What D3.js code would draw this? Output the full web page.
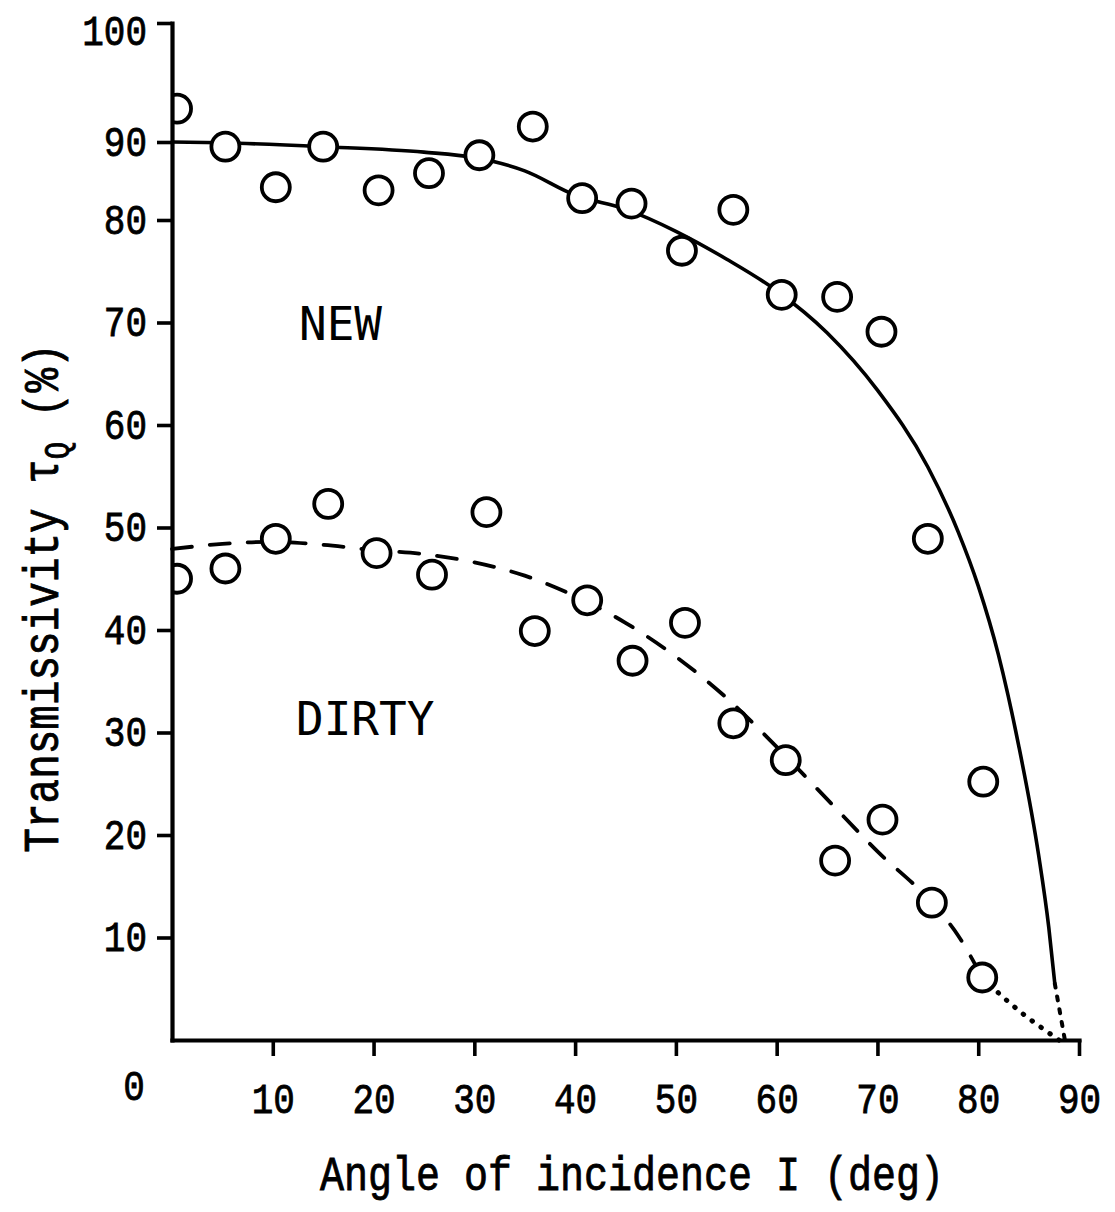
<!DOCTYPE html>
<html>
<head>
<meta charset="utf-8">
<script src="https://cdn.jsdelivr.net/npm/d3@7"></script>
<style>
  html, body { margin: 0; padding: 0; background: #fff; }
  svg { display: block; }
  .tw { font-family: "Liberation Mono", "DejaVu Sans Mono", monospace; fill: #000; stroke: #000; stroke-width: 0.7px; }
  .lbl { font-family: "DejaVu Sans Mono", monospace; fill: #000; }
</style>
</head>
<body>
<div id="chart"></div>
<script>
// measured points: angle of incidence (deg) and transmissivity (%)
var newAngle   = [0.5, 5.3, 10.3, 15, 20.5, 25.5, 30.5, 35.8, 40.7, 45.6, 50.6, 55.7, 60.5, 66, 70.4, 75, 80.5];
var newTrans   = [92.8, 89.4, 84.2, 89.4, 83.8, 86, 88.3, 91.3, 82.8, 82.1, 77, 81.3, 72.7, 72.5, 69.1, 48.9, 25.2];
var dirtyAngle = [0.5, 5.3, 10.3, 15.5, 20.3, 25.8, 31.2, 36, 41.2, 45.7, 50.9, 55.7, 60.9, 65.8, 70.5, 75.4, 80.4];
var dirtyTrans = [45, 46, 48.9, 52.3, 47.5, 45.4, 51.5, 39.9, 42.9, 37, 40.7, 30.9, 27.3, 17.5, 21.5, 13.4, 6.1];

// hand drawn fit curves
var newFitAngle = [0, 5, 15, 25, 30, 35, 40, 45, 50, 55, 60, 65, 70, 75, 78, 80, 82, 84, 86, 87, 87.6];
var newFitTrans = [90, 89.9, 89.4, 88.7, 88.0, 86.3, 83.2, 81.4, 78.9, 76.2, 73.1, 69, 63.4, 55.9, 49.6, 44.3, 37.6, 28.8, 18.0, 11.0, 5.5];
var newTailAngle = [87.6, 88.6];
var newTailTrans = [5.5, 0];

var dirtyFitAngle = [0, 5, 10, 15, 20, 25, 30, 35, 40, 45, 50, 55, 60, 65, 70, 75, 78, 80.4];
var dirtyFitTrans = [47.9, 48.4, 48.6, 48.3, 47.8, 47.4, 46.6, 45.3, 43.3, 40.7, 37.4, 33.4, 28.6, 23.5, 18.4, 13.8, 10.2, 6.1];
var dirtyTailAngle = [80.4, 82, 84.5, 87, 88];
var dirtyTailTrans = [6.1, 4.6, 2.5, 0.7, 0];

var xTicks = [10, 20, 30, 40, 50, 60, 70, 80, 90];
var yTicks = [10, 20, 30, 40, 50, 60, 70, 80, 90, 100];

var width = 1115, height = 1212;

var svg = d3.select("#chart").append("svg")
    .attr("width", width)
    .attr("height", height);

// the drawn axis is not quite even above 80
var x = d3.scaleLinear().domain([0, 90]).range([172, 1079]);
var y = d3.scaleLinear().domain([0, 80, 90, 100]).range([1040, 220, 142, 23]);

svg.append("defs").append("clipPath").attr("id", "plot")
  .append("rect").attr("x", 172).attr("y", 0).attr("width", width).attr("height", height);

function pts(a, b) { return a.map(function (d, i) { return [d, b[i]]; }); }

var line = d3.line()
    .x(function (d) { return x(d[0]); })
    .y(function (d) { return y(d[1]); })
    .curve(d3.curveMonotoneX);

var g = svg.append("g");

g.append("path")
    .attr("d", line(pts(newFitAngle, newFitTrans)))
    .attr("fill", "none").attr("stroke", "#000").attr("stroke-width", 3.6);
g.append("path")
    .attr("d", line(pts(newTailAngle, newTailTrans)))
    .attr("fill", "none").attr("stroke", "#000").attr("stroke-width", 4)
    .attr("stroke-dasharray", "4,9").attr("stroke-linecap", "round");

g.append("path")
    .attr("d", line(pts(dirtyFitAngle, dirtyFitTrans)))
    .attr("fill", "none").attr("stroke", "#000").attr("stroke-width", 3.8)
    .attr("stroke-dasharray", "20,18").attr("stroke-linecap", "round");
g.append("path")
    .attr("d", line(pts(dirtyTailAngle, dirtyTailTrans)))
    .attr("fill", "none").attr("stroke", "#000").attr("stroke-width", 5)
    .attr("stroke-dasharray", "0.5,10.5").attr("stroke-linecap", "round");

var dots = g.append("g").attr("clip-path", "url(#plot)");
dots.selectAll("circle.new")
  .data(pts(newAngle, newTrans))
  .enter().append("circle")
    .attr("class", "new")
    .attr("cx", function (d) { return x(d[0]); })
    .attr("cy", function (d) { return y(d[1]); })
    .attr("r", 14)
    .attr("fill", "#fff").attr("stroke", "#000").attr("stroke-width", 3.8);
dots.selectAll("circle.dirty")
  .data(pts(dirtyAngle, dirtyTrans))
  .enter().append("circle")
    .attr("class", "dirty")
    .attr("cx", function (d) { return x(d[0]); })
    .attr("cy", function (d) { return y(d[1]); })
    .attr("r", 14)
    .attr("fill", "#fff").attr("stroke", "#000").attr("stroke-width", 3.8);

// axes
var gx = svg.append("g")
    .attr("transform", "translate(0," + y(0) + ")")
    .call(d3.axisBottom(x).tickValues(xTicks).tickSize(16).tickSizeOuter(0).tickFormat(d3.format("d")));
var gy = svg.append("g")
    .attr("transform", "translate(" + x(0) + ",0)")
    .call(d3.axisLeft(y).tickValues(yTicks).tickSize(15).tickSizeOuter(0).tickFormat(d3.format("d")));

[gx, gy].forEach(function (a) {
  a.attr("font-size", null).attr("font-family", null);
  a.select(".domain").attr("stroke-width", 4.2).attr("stroke-linecap", "square");
  a.selectAll(".tick line").attr("stroke-width", 3.6);
  a.selectAll(".tick text").attr("class", "tw").style("font-size", "36px").attr("fill", "#000");
});
gx.selectAll(".tick text")
    .attr("y", null).attr("dy", null)
    .attr("transform", "translate(0,73) scale(1,1.2)");
gy.selectAll(".tick text")
    .attr("x", null).attr("dy", null)
    .attr("transform", function (d) { return "translate(-25," + (d === 100 ? 21 : 13) + ") scale(1,1.2)"; });

// origin label sits apart, left of the corner
svg.append("text").attr("class", "tw")
    .attr("text-anchor", "middle")
    .style("font-size", "36px")
    .attr("transform", "translate(" + (x(0) - 38) + "," + (y(0) + 60) + ") scale(1,1.2)")
    .text("0");

// axis titles
svg.append("text").attr("class", "tw")
    .attr("text-anchor", "middle")
    .style("font-size", "40px")
    .attr("transform", "translate(632,1190) scale(1,1.2)")
    .text("Angle of incidence I (deg)");

var yt = svg.append("text").attr("class", "tw")
    .attr("text-anchor", "middle")
    .style("font-size", "41px")
    .attr("transform", "translate(58,598) rotate(-90) scale(1,1.2)");
yt.append("tspan").text("Transmissivity \u03c4");
yt.append("tspan").attr("dy", 8).style("font-size", "29px").text("Q");
yt.append("tspan").attr("dy", -8).text(" (%)");

// curve labels
svg.append("text").attr("class", "lbl")
    .style("font-size", "46px")
    .attr("x", x(12.6)).attr("y", y(68.3))
    .text("NEW");
svg.append("text").attr("class", "lbl")
    .style("font-size", "46px")
    .attr("x", x(12.3)).attr("y", y(29.8))
    .text("DIRTY");
</script>
</body>
</html>
